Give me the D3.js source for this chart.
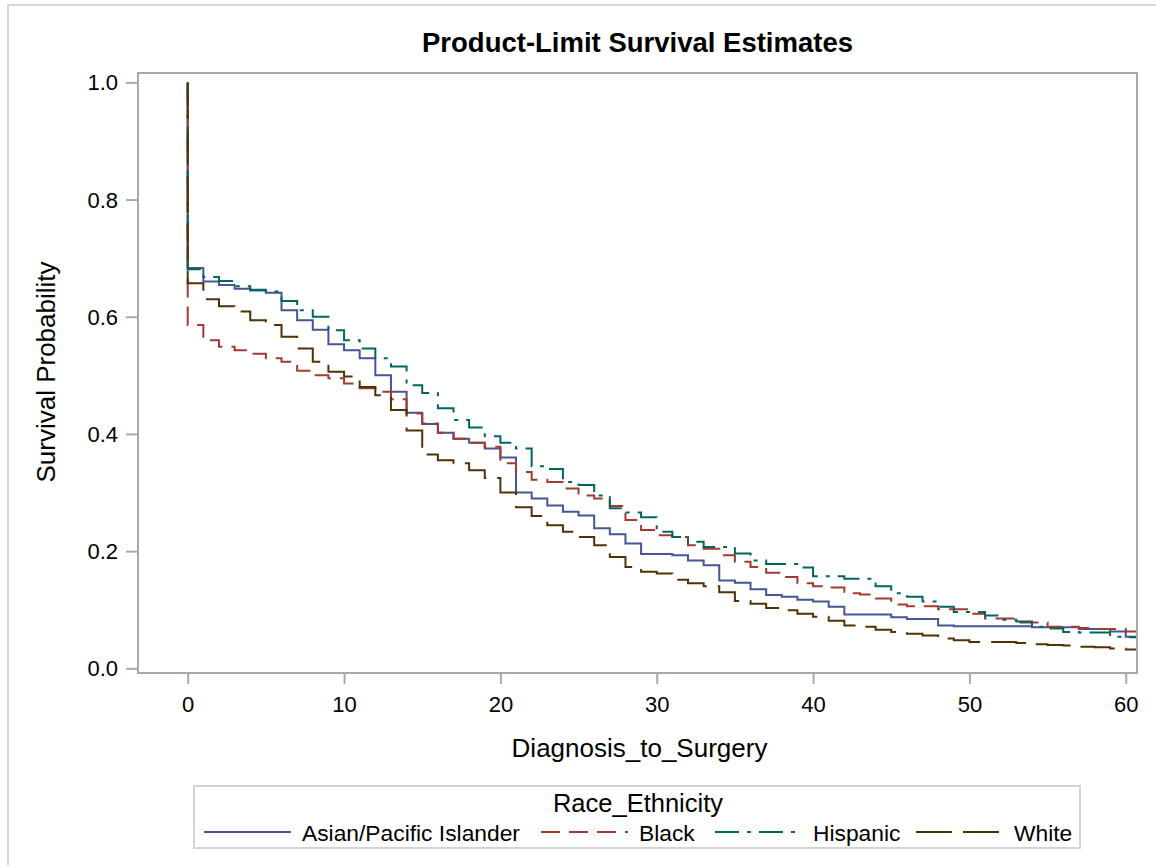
<!DOCTYPE html>
<html><head><meta charset="utf-8">
<script src="https://cdn.jsdelivr.net/npm/d3@7"></script>
<style>
body{margin:0;background:#fff}
svg{display:block}
text{font-family:"Liberation Sans",Arial,Helvetica,sans-serif;fill:#000}
</style>
</head><body>
<svg id="chart" width="1156" height="865"></svg>
<script>
// ---------- data ----------
const days = [0,1,2,3,4,5,6,7,8,9,10,11,12,13,14,15,16,17,18,19,20,21,22,23,24,25,26,27,28,29,30,
  31,32,33,34,35,36,37,38,39,40,41,42,43,44,45,46,47,48,49,50,51,52,53,54,55,56,57,58,59,60];
const seriesNames = ["Asian/Pacific Islander","Black","Hispanic","White"];
const asianPI = [0.683,0.660,0.654,0.648,0.645,0.641,0.611,0.594,0.578,0.553,0.543,0.529,0.500,0.472,0.436,0.417,
  0.402,0.392,0.385,0.375,0.360,0.300,0.290,0.278,0.267,0.261,0.239,0.229,0.213,0.195,0.195,0.193,0.184,0.176,
  0.150,0.146,0.135,0.125,0.122,0.117,0.114,0.105,0.092,0.092,0.092,0.087,0.084,0.084,0.073,0.072,0.072,0.072,
  0.072,0.072,0.070,0.070,0.070,0.067,0.067,0.063,0.054];
const black = [0.586,0.560,0.549,0.543,0.537,0.529,0.523,0.508,0.500,0.495,0.486,0.478,0.472,0.459,0.435,0.418,
  0.402,0.392,0.385,0.378,0.350,0.335,0.322,0.318,0.307,0.295,0.290,0.277,0.253,0.236,0.227,0.224,0.210,0.204,
  0.193,0.182,0.173,0.163,0.156,0.145,0.140,0.138,0.128,0.126,0.119,0.109,0.106,0.106,0.101,0.101,0.093,0.085,
  0.085,0.078,0.078,0.071,0.071,0.069,0.067,0.067,0.063];
const hispanic = [0.681,0.668,0.661,0.652,0.646,0.643,0.627,0.611,0.600,0.577,0.560,0.546,0.529,0.515,0.483,0.470,
  0.444,0.424,0.411,0.396,0.385,0.375,0.345,0.340,0.318,0.313,0.295,0.273,0.266,0.258,0.233,0.224,0.216,0.207,
  0.207,0.196,0.184,0.178,0.178,0.172,0.157,0.157,0.153,0.153,0.140,0.128,0.122,0.114,0.105,0.096,0.096,0.090,
  0.083,0.080,0.071,0.068,0.062,0.061,0.061,0.054,0.053];
const white = [0.657,0.630,0.618,0.609,0.594,0.586,0.566,0.546,0.523,0.506,0.498,0.480,0.466,0.441,0.406,0.365,
  0.355,0.350,0.338,0.325,0.300,0.275,0.260,0.244,0.233,0.224,0.210,0.190,0.173,0.165,0.162,0.151,0.145,0.140,
  0.130,0.115,0.110,0.103,0.099,0.093,0.088,0.081,0.073,0.071,0.066,0.062,0.059,0.056,0.051,0.048,0.045,0.045,
  0.045,0.043,0.041,0.040,0.039,0.037,0.036,0.034,0.032];
const xTicks = [0,10,20,30,40,50,60];
const yTicks = [0,0.2,0.4,0.6,0.8,1.0];
const yTickLabels = ["0.0","0.2","0.4","0.6","0.8","1.0"];

// ---------- style ----------
const colors = ["#445694","#A23A2E","#01665E","#543005"];
const dashes = [null,"19,9","24,8,4,8","36,11"];
const allSeries = [asianPI, black, hispanic, white];

const svg = d3.select("#chart");
const L = 138, R = 1137, T = 73, B = 673;
const x = d3.scaleLinear().domain([-3.18, 60.72]).range([L, R]);
const y = d3.scaleLinear().domain([-0.008, 1.016]).range([B, T]);
const frameColor = "#a6a9ad";

// outer border
svg.append("path").attr("d","M8,865 V5 H1156").attr("fill","none")
  .attr("stroke","#d6d6d6").attr("stroke-width",2);

// title
svg.append("text").attr("x",637.5).attr("y",52).attr("text-anchor","middle")
  .style("font-size","27.5px").style("font-weight","bold").text("Product-Limit Survival Estimates");

// clip
svg.append("clipPath").attr("id","clip").append("rect")
  .attr("x",L).attr("y",T).attr("width",R-L).attr("height",B-T);

// axes
const gx = svg.append("g").attr("transform",`translate(0,${B})`)
  .call(d3.axisBottom(x).tickValues(xTicks).tickSize(11).tickPadding(8).tickFormat(d3.format("d")));
const gy = svg.append("g").attr("transform",`translate(${L},0)`)
  .call(d3.axisLeft(y).tickValues(yTicks).tickSize(12).tickPadding(8).tickFormat((d,i)=>yTickLabels[i]));
[gx,gy].forEach(g=>{
  g.select(".domain").remove();
  g.selectAll(".tick line").attr("stroke",frameColor).attr("stroke-width",2);
  g.selectAll(".tick text").style("font-size","22px").attr("fill","#000")
    .style("font-family",'"Liberation Sans",Arial,sans-serif');
});
gx.selectAll(".tick text").attr("dy","0.93em");
gy.selectAll(".tick text").attr("dy","0.34em");

// axis labels
svg.append("text").attr("x",(L+R)/2+2).attr("y",757).attr("text-anchor","middle")
  .style("font-size","26px").text("Diagnosis_to_Surgery");
svg.append("text").attr("transform",`translate(55,${(T+B)/2-1}) rotate(-90)`).attr("text-anchor","middle")
  .style("font-size","26px").text("Survival Probability");

// curves
const line = d3.line().x(d=>x(d[0])).y(d=>y(d[1])).curve(d3.curveStepAfter);
const gc = svg.append("g").attr("clip-path","url(#clip)");
allSeries.forEach((vals,i)=>{
  const pts = [[days[0],1.0]].concat(days.map((t,j)=>[t,vals[j]]));
  pts.push([days[days.length-1]+1, vals[vals.length-1]]);
  gc.append("path").attr("d",line(pts)).attr("fill","none")
    .attr("stroke",colors[i]).attr("stroke-width",2)
    .attr("stroke-dasharray",dashes[i]);
});

// frame
svg.append("rect").attr("x",L).attr("y",T).attr("width",R-L).attr("height",B-T)
  .attr("fill","none").attr("stroke",frameColor).attr("stroke-width",2);

// legend
svg.append("rect").attr("x",194).attr("y",786).attr("width",886).attr("height",62)
  .attr("fill","none").attr("stroke","#d3d3d3").attr("stroke-width",2);
svg.append("text").attr("x",638).attr("y",812).attr("text-anchor","middle")
  .style("font-size","25.5px").text("Race_Ethnicity");
const legX = [204, 541, 715, 916];
seriesNames.forEach((nm,i)=>{
  svg.append("line").attr("x1",legX[i]).attr("x2",legX[i]+87).attr("y1",832).attr("y2",832)
    .attr("stroke",colors[i]).attr("stroke-width",2).attr("stroke-dasharray",dashes[i]);
  svg.append("text").attr("x",legX[i]+98).attr("y",841).style("font-size","22.8px").text(nm);
});
</script>
</body></html>
